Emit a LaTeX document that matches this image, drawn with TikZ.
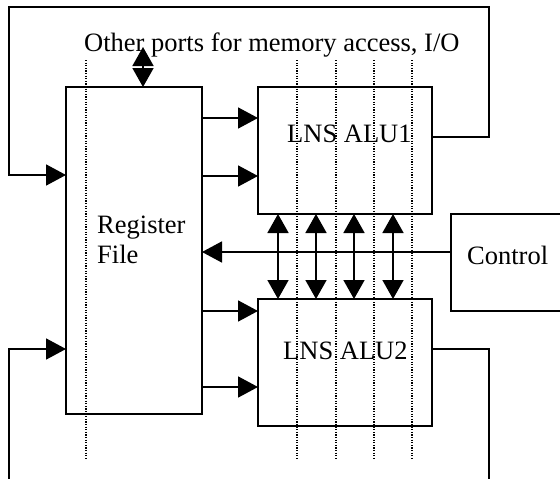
\documentclass[tikz,border=0pt]{standalone}
\usepackage{fontspec}
\setmainfont{Liberation Serif}
\usetikzlibrary{arrows.meta}
\begin{document}
\begin{tikzpicture}[x=1pt,y=-1pt,
  box/.style={draw,line width=1.7pt,inner sep=0pt,outer sep=0pt},
  wire/.style={line width=1.7pt},
  feed/.style={wire,-{Triangle[length=20pt,width=21pt]}},
  both/.style={wire,{Triangle[length=19pt,width=21pt]}-{Triangle[length=19pt,width=21pt]}},
  lane/.style={line width=1.2pt,dash pattern=on 1.2pt off 1.4pt},
  lbl/.style={inner sep=0pt,anchor=base west,font=\fontsize{26.5}{30}\selectfont}]
\path[use as bounding box,clip] (0,0) rectangle (560,479);

% blocks
\node[box,minimum width=136pt,minimum height=327pt] (rf) at (134,250.5) {};
\node[box,minimum width=174pt,minimum height=127pt] (alu1) at (345,150.5) {};
\node[box,minimum width=174pt,minimum height=127pt] (alu2) at (345,362.5) {};
\node[box,minimum width=130pt,minimum height=97pt] (ctl) at (516,262.5) {};

% labels
\node[lbl] (ports) at (84,51) {Other ports for memory access, I/O};
\node[lbl] (rf1) at (97,233) {Register};
\node[lbl] (rf2) at (97,263) {File};
\node[lbl] (a1txt) at (287,142) {LNS ALU1};
\node[lbl] (a2txt) at (283,359) {LNS ALU2};
\node[lbl] (ctltxt) at (467,264) {Control};

% free ends of the wires
\coordinate (memport) at (143,47);
\coordinate (botR) at (489,486);
\coordinate (botL) at (9,486);

% register file to ALUs
\draw[feed] (rf.east |- 0,118) -- (alu1.west |- 0,118);
\draw[feed] (rf.east |- 0,176) -- (alu1.west |- 0,176);
\draw[feed] (rf.east |- 0,311) -- (alu2.west |- 0,311);
\draw[feed] (rf.east |- 0,387) -- (alu2.west |- 0,387);

% ALU1 result back to the register file
\draw[feed] (alu1.east |- 0,137) -- (489,137) -- (489,7) -- (9,7) -- (9,175) -- (rf.west |- 0,175);

% ALU2 result back to the register file
\draw[wire] (alu2.east |- 0,349) -- (botR |- 0,349) -- (botR);
\draw[feed] (botL) -- (botL |- 0,349) -- (rf.west |- 0,349);

% control
\draw[feed] (ctl.west |- 0,252) -- (rf.east |- 0,252);

% links between the two ALUs
\foreach \x in {278,316,354,393}
  \draw[both] (alu1.south -| \x,0) -- (alu2.north -| \x,0);

% memory / I/O port
\draw[both] (memport) -- (rf.north -| memport);

% dotted lanes
\foreach \x in {86,297,336,374,412}
  \draw[lane] (\x,60) -- (\x,460);
\end{tikzpicture}
\end{document}
